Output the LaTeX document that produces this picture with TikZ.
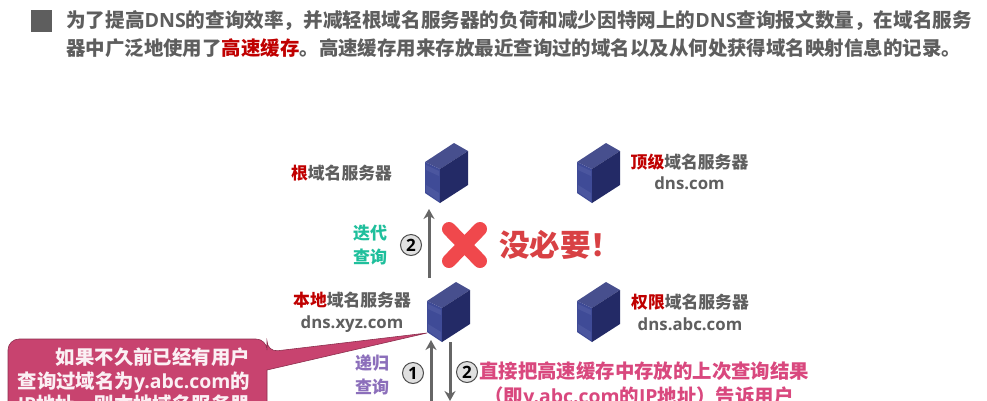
\documentclass[tikz,border=0pt]{standalone}
\usepackage{fontspec}
\setmainfont{Noto Sans CJK SC}
\newfontfamily\latfont{Open Sans}
\newcommand{\lat}[1]{{\latfont\bfseries #1}}
\definecolor{bodygrey}{HTML}{5E5E5E}
\definecolor{labelgrey}{HTML}{5F5F5F}
\definecolor{keyred}{HTML}{C00000}
\definecolor{iterteal}{HTML}{1FBF9C}
\definecolor{recpurple}{HTML}{8C6FBB}
\definecolor{calloutpink}{HTML}{C8436F}
\definecolor{answerpink}{HTML}{D9487E}
\definecolor{crossred}{HTML}{F0484C}
\definecolor{srvtop}{HTML}{474F8E}
\definecolor{srvleft}{HTML}{3F4B97}
\definecolor{srvright}{HTML}{232A66}
\definecolor{srvlight}{HTML}{5560A6}
\definecolor{arrowgrey}{HTML}{666666}
\newcommand{\fs}[1]{\fontsize{#1}{#1}\selectfont}
\newcommand{\rd}[1]{\textcolor{keyred}{#1}}
\newcommand{\srv}[3]{%
  \node[srvbox] (#1) at (#2+21.5,#3+30) {};
  \begin{scope}[shift={(#2,#3)}]
    \fill[srvtop] (0,19) -- (29,0) -- (43,8) -- (15,26) -- cycle;
    \fill[srvleft] (0,19) -- (15,26) -- (15,60) -- (0,50) -- cycle;
    \fill[srvright] (15,26) -- (43,8) -- (43,42) -- (15,60) -- cycle;
    \fill[srvlight,opacity=.55] (1,22) -- (14,28) -- (14,33) -- (1,27) -- cycle;
    \fill[srvlight,opacity=.55] (1,42) -- (14,50) -- (14,58) -- (1,49) -- cycle;
  \end{scope}}
\tikzset{
  srvbox/.style={inner sep=0pt,minimum width=43pt,minimum height=60pt},
  srvlabel/.style={text=labelgrey,font=\fs{16.8}\bfseries,inner sep=0pt,align=center},
  bodytext/.style={text=bodygrey,font=\fs{19.45}\bfseries,inner sep=0pt,anchor=west},
  querytag/.style={font=\fs{17}\bfseries,inner sep=0pt,align=center},
  stepmark/.style={circle,draw=black!70,line width=1pt,fill=black!12,minimum size=21pt,inner sep=0pt,font=\fs{17}\bfseries\latfont,text=black},
  flow/.style={draw=arrowgrey,line width=3pt,-{Stealth[length=10pt,width=11pt]}},
  answer/.style={text=answerpink,font=\fs{19.4}\bfseries,inner sep=0pt},
  callouttext/.style={text=white!92!calloutpink,font=\fs{19.4}\bfseries,inner sep=0pt,anchor=east}
}
\usetikzlibrary{arrows.meta}
\begin{document}
\begin{tikzpicture}[x=1pt,y=-1pt]
\useasboundingbox (0,0) rectangle (987,400);
\clip (0,0) rectangle (987,400);
\fill[white] (0,0) rectangle (987,400);
% bullet and body
\node[fill=bodygrey,minimum width=21pt,minimum height=22pt,inner sep=0pt] (bullet) at (41.5,21) {};
\node[bodytext,font=\fs{19.6}\bfseries] (line1) at (66,21) {为了提高\lat{DNS}的查询效率，并减轻根域名服务器的负荷和减少因特网上的\lat{DNS}查询报文数量，在域名服务};
\node[bodytext] (line2) at (66,48) {器中广泛地使用了\rd{高速缓存}。高速缓存用来存放最近查询过的域名以及从何处获得域名映射信息的记录。};
% servers
\srv{root}{425}{143}
\srv{tld}{577}{143}
\srv{local}{427}{282}
\srv{auth}{577}{282}
% server labels
\node[srvlabel] (rootlabel) at (341.5,173) {\rd{根}域名服务器};
\node[srvlabel] (tldlabel) at (689.5,171.5) {\rd{顶级}域名服务器\\[4pt]\lat{dns.com}};
\node[srvlabel] (locallabel) at (352,312) {\rd{本地}域名服务器\\[5pt]\lat{dns.xyz.com}};
\node[srvlabel] (authlabel) at (690,312) {\rd{权限}域名服务器\\[5pt]\lat{dns.abc.com}};
% connectors
\coordinate (iterfoot) at (429,278);
\coordinate (iterhead) at (429,209);
\coordinate (recfoot) at (431,410);
\coordinate (rechead) at (431,340);
\coordinate (ansstart) at (450,342);
\coordinate (ansend) at (450,401);
\draw[flow] (iterfoot) -- (iterhead);
\draw[flow] (recfoot) -- (rechead);
\draw[flow] (ansstart) -- (ansend);
% iterative query
\node[querytag,text=iterteal] (iter) at (370,244.5) {迭代\\[7pt]查询};
\node[stepmark] (m2a) at (411,245) {2};
% cross
\draw[crossred,line width=14pt,line cap=round] (449,229) -- (480,261);
\draw[crossred,line width=14pt,line cap=round] (480,229) -- (449,261);
\node[text=crossred!90!black,font=\fs{30.5}\bfseries,inner sep=0pt] (nonneed) at (560,245) {没必要！};
% recursive query
\node[querytag,text=recpurple] (rec) at (372,375) {递归\\[7pt]查询};
\node[stepmark] (m1) at (413,373) {1};
\node[stepmark] (m2b) at (467,372) {2};
\node[answer,anchor=west] (ans1) at (479,371) {直接把高速缓存中存放的上次查询结果};
\node[answer] (ans2) at (639,397) {（即\lat{y.abc.com}的\lat{IP}地址）告诉用户};
% callout
\coordinate (tailtip) at (427,333);
\draw[draw=calloutpink!70!black,fill=calloutpink,line width=.6pt,rounded corners=11pt]
  (8,430) -- (8,339) -- (267,339) -- (267,352) [sharp corners] -- (tailtip) -- (267,370) [rounded corners=11pt] -- (267,430) -- cycle;
\node[callouttext] (co1) at (250,357) {如果不久前已经有用户};
\node[callouttext] (co2) at (250,382) {查询过域名为\lat{y.abc.com}的};
\node[callouttext] (co3) at (250,405) {\lat{IP}地址，则本地域名服务器};
\end{tikzpicture}
\end{document}
